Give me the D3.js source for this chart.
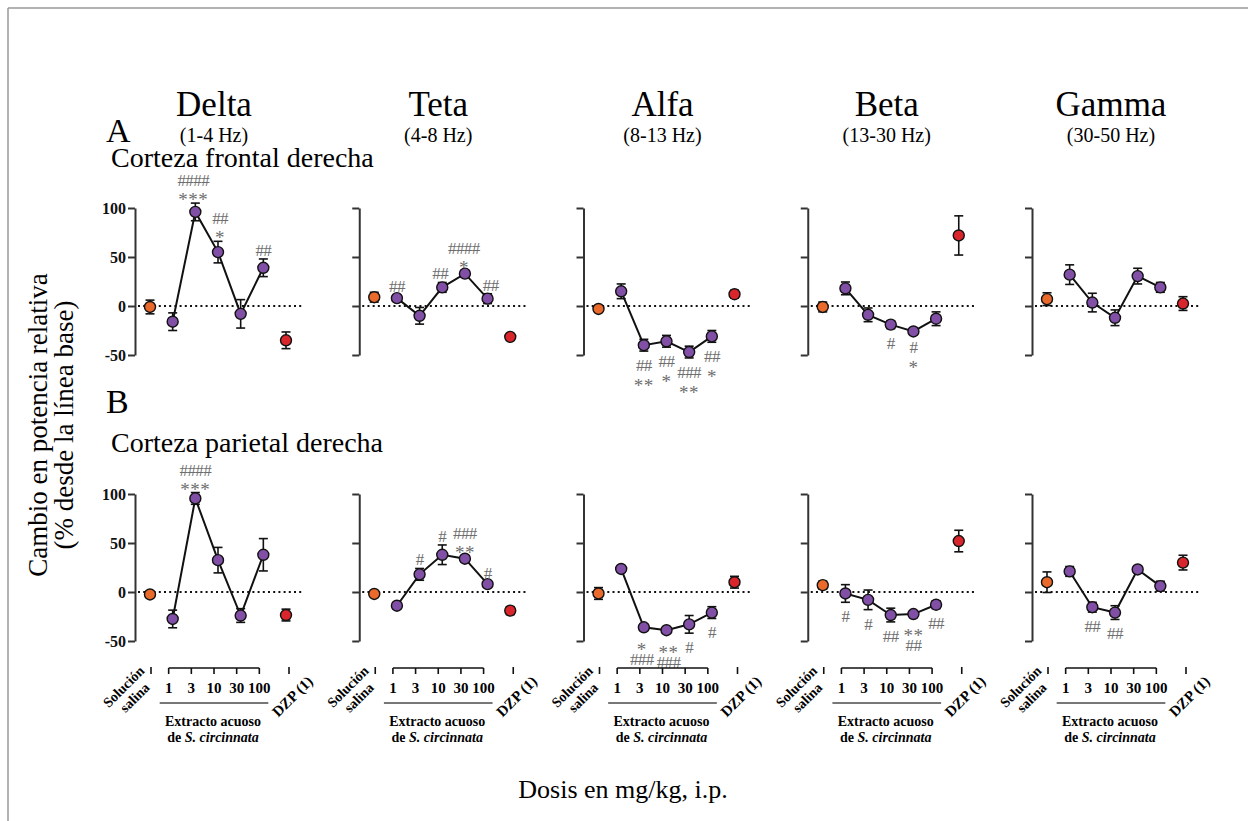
<!DOCTYPE html>
<html>
<head>
<meta charset="utf-8">
<script src="https://cdn.jsdelivr.net/npm/d3@7"></script>
<style>
  body { margin: 0; background: #fff; }
  text { font-family: "Liberation Serif", "Times New Roman", serif; }
</style>
</head>
<body>
<script>
// bands and doses
var bands = ["Delta", "Teta", "Alfa", "Beta", "Gamma"];
var bandHz = ["(1-4 Hz)", "(4-8 Hz)", "(8-13 Hz)", "(13-30 Hz)", "(30-50 Hz)"];
var doses = ["SAL", "1", "3", "10", "30", "100", "DZP"];
var extractDoses = ["1", "3", "10", "30", "100"];
var yTicks = [-50, 0, 50, 100];

// right frontal cortex: mean and sem per band, in dose order
var frontalMean = [
	[-1, -16, 96, 55, -8, 39, -35],
	[9, 8, -10, 19, 33, 7.5, -31.5],
	[-3, 15, -40, -36, -47, -31, 12],
	[-1, 18, -9, -19, -26, -13, 72],
	[7, 32, 3.5, -12, 30.5, 19, 2.5]
];
var frontalSem = [
	[7, 9, 9, 11, 14.5, 9, 8.5],
	[5, 3, 8.5, 5, 3, 5, 3],
	[3, 7.5, 6, 6, 6, 6, 4],
	[5, 6.5, 7, 4, 2, 7, 20],
	[6.5, 10, 9.5, 8, 8, 5, 7]
];
var frontalSig = [
	["", "", "####|***", "##|*", "", "##", ""],
	["", "##", "", "##", "####|*", "##", ""],
	["", "", "##|**", "##|*", "###|**", "##|*", ""],
	["", "", "", "#", "#|*", "", ""],
	["", "", "", "", "", "", ""]
];
var frontalSide = ["up", "up", "down", "down", "down"];

// right parietal cortex
var parietalMean = [
	[-2.5, -27.5, 95.5, 32.5, -24, 38, -23.5],
	[-2, -14, 18, 38, 34, 8, -19],
	[-1.5, 23.5, -36, -39, -33, -21, 10],
	[7, -1.5, -8, -23.5, -22.5, -13, 52],
	[10, 21, -15.5, -21, 23, 6, 30]
];
var parietalSem = [
	[2, 9, 6, 13, 7, 16.5, 6],
	[2, 3, 6, 10, 3, 2, 4],
	[6, 3, 3, 3, 9, 6, 6],
	[4, 9, 10, 7, 2, 4, 11],
	[10.5, 5, 5, 7, 3, 5, 7.5]
];
var parietalSig = [
	["", "", "####|***", "", "", "", ""],
	["", "", "#", "#", "###|**", "#", ""],
	["", "", "*|###", "**|###", "#", "#", ""],
	["", "#", "#", "##", "**|##", "##", ""],
	["", "", "##", "##", "", "", ""]
];
var parietalSide = ["up", "up", "down", "down", "down"];

var W = 1248, H = 821;
var dotColor = { SAL: "#ea6a2c", DZP: "#d8262c" };
var extractColor = "#8150a6";
var sigColor = "#6e6e6e";

var svg = d3.select("body").append("svg")
	.attr("width", W)
	.attr("height", H);

// frame
svg.append("line").attr("x1", 8).attr("y1", 8).attr("x2", W).attr("y2", 8)
	.style("stroke", "#999").style("stroke-width", 1.5);
svg.append("line").attr("x1", 8).attr("y1", 8).attr("x2", 8).attr("y2", H)
	.style("stroke", "#999").style("stroke-width", 1.5);

var colX = d3.scalePoint().domain(bands).range([135, 1032]);
var xs = d3.scalePoint().domain(doses).range([15, 151]);

var rows = [
	{ mean: frontalMean, sem: frontalSem, sig: frontalSig, side: frontalSide,
	  y: d3.scaleLinear().domain([-50, 100]).range([355, 208]),
	  letter: "A", letterY: 142, name: "Corteza frontal derecha", nameY: 167, xAxis: false },
	{ mean: parietalMean, sem: parietalSem, sig: parietalSig, side: parietalSide,
	  y: d3.scaleLinear().domain([-50, 100]).range([641, 494]),
	  letter: "B", letterY: 413, name: "Corteza parietal derecha", nameY: 452, xAxis: true }
];

// column titles
bands.forEach(function(b, i) {
	svg.append("text")
		.attr("x", colX(b) + 79)
		.attr("y", 116)
		.attr("text-anchor", "middle")
		.style("font-size", "35px")
		.text(b);
	svg.append("text")
		.attr("x", colX(b) + 79)
		.attr("y", 142)
		.attr("text-anchor", "middle")
		.style("font-size", "20px")
		.text(bandHz[i]);
});

rows.forEach(function(row) {
	var y = row.y;
	svg.append("text")
		.attr("x", 106)
		.attr("y", row.letterY)
		.style("font-size", "34px")
		.text(row.letter);
	svg.append("text")
		.attr("x", 111)
		.attr("y", row.nameY)
		.style("font-size", "28px")
		.text(row.name);

	bands.forEach(function(b, bi) {
		var g = svg.append("g")
			.attr("transform", "translate(" + colX(b) + ",0)");

		var yAxis = d3.axisLeft(y)
			.tickValues(yTicks)
			.tickSize(7)
			.tickSizeOuter(0)
			.tickPadding(2)
			.tickFormat(function(d) { return bi === 0 ? String(d) : ""; });
		var ax = g.append("g").call(yAxis);
		ax.select(".domain").style("stroke", "#333").style("stroke-width", 2);
		ax.selectAll(".tick line").style("stroke", "#333").style("stroke-width", 2);
		ax.selectAll(".tick text")
			.style("font-family", "Liberation Serif, serif")
			.style("font-weight", "bold")
			.style("font-size", "16px")
			.style("fill", "#111");

		// zero reference
		g.append("line")
			.attr("x1", 3)
			.attr("x2", xs("DZP") + 18)
			.attr("y1", y(0))
			.attr("y2", y(0))
			.style("stroke", "#111")
			.style("stroke-width", 2)
			.style("stroke-dasharray", "2,3.2");

		var pts = doses.map(function(d, i) {
			return { dose: d, mean: row.mean[bi][i], sem: row.sem[bi][i], sig: row.sig[bi][i] };
		});

		// error bars
		var eb = g.selectAll(".eb").data(pts).enter().append("g");
		eb.append("line")
			.attr("x1", function(d) { return xs(d.dose); })
			.attr("x2", function(d) { return xs(d.dose); })
			.attr("y1", function(d) { return y(d.mean + d.sem); })
			.attr("y2", function(d) { return y(d.mean - d.sem); })
			.style("stroke", "#111").style("stroke-width", 1.6);
		[1, -1].forEach(function(s) {
			eb.append("line")
				.attr("x1", function(d) { return xs(d.dose) - 4.5; })
				.attr("x2", function(d) { return xs(d.dose) + 4.5; })
				.attr("y1", function(d) { return y(d.mean + s * d.sem); })
				.attr("y2", function(d) { return y(d.mean + s * d.sem); })
				.style("stroke", "#111").style("stroke-width", 1.6);
		});

		// extract curve
		var ext = pts.filter(function(d) { return extractDoses.indexOf(d.dose) >= 0; });
		g.append("path")
			.datum(ext)
			.attr("d", d3.line()
				.x(function(d) { return xs(d.dose); })
				.y(function(d) { return y(d.mean); }))
			.style("fill", "none")
			.style("stroke", "#111")
			.style("stroke-width", 2);

		g.selectAll(".pt").data(pts).enter().append("circle")
			.attr("cx", function(d) { return xs(d.dose); })
			.attr("cy", function(d) { return y(d.mean); })
			.attr("r", 5.5)
			.style("fill", function(d) { return dotColor[d.dose] || extractColor; })
			.style("stroke", "#111")
			.style("stroke-width", 1.4);

		// significance marks, one text per mark, lines as tspans
		var side = row.side[bi];
		var marks = [];
		pts.forEach(function(d) {
			if (!d.sig) return;
			var lines = d.sig.split("|");
			var n = lines.length;
			var t = g.append("text")
				.attr("text-anchor", "middle")
				.style("fill", sigColor);
			lines.forEach(function(s, li) {
				var cy;
				if (side === "up") cy = y(d.mean + d.sem) - 9 - (n - 1 - li) * 14;
				else cy = y(d.mean - d.sem) + 14 + li * 15;
				var star = s.charAt(0) === "*";
				t.append("tspan")
					.attr("x", xs(d.dose))
					.attr("y", cy + (star ? 12 : 6))
					.style("font-size", star ? "19px" : "17px")
					.style("letter-spacing", star ? "0.5px" : "-0.6px")
					.text(s);
			});
			marks.push({ t: t, x: xs(d.dose) });
		});
		// nudge neighbouring marks apart when they collide
		for (var i = 0; i < marks.length - 1; i++) {
			var a = marks[i].t.node().getBBox();
			var c = marks[i + 1].t.node().getBBox();
			var vov = Math.min(a.y + a.height, c.y + c.height) - Math.max(a.y, c.y);
			var hov = a.x + a.width - c.x + 2;
			if (vov > 0 && hov > 0) {
				marks[i].t.selectAll("tspan").attr("x", marks[i].x - hov / 2);
				marks[i + 1].t.selectAll("tspan").attr("x", marks[i + 1].x + hov / 2);
				marks[i].x -= hov / 2;
				marks[i + 1].x += hov / 2;
			}
		}

		if (row.xAxis) {
			var base = y(-50) + 27;
			var shift = -4;
			// saline and DZP ticks
			["SAL", "DZP"].forEach(function(k) {
				g.append("line")
					.attr("x1", xs(k) + (k === "SAL" ? 1 : 3))
					.attr("x2", xs(k) + (k === "SAL" ? 1 : 3))
					.attr("y1", base - 1)
					.attr("y2", base + 6)
					.style("stroke", "#111").style("stroke-width", 1.6);
			});
			g.append("line")
				.attr("x1", xs("1") + shift)
				.attr("x2", xs("100") + shift)
				.attr("y1", base)
				.attr("y2", base)
				.style("stroke", "#111").style("stroke-width", 1.6);
			extractDoses.forEach(function(k) {
				g.append("line")
					.attr("x1", xs(k) + shift)
					.attr("x2", xs(k) + shift)
					.attr("y1", base)
					.attr("y2", base + 6)
					.style("stroke", "#111").style("stroke-width", 1.6);
				g.append("text")
					.attr("x", xs(k) + shift)
					.attr("y", base + 25)
					.attr("text-anchor", "middle")
					.style("font-size", "15px")
					.style("font-weight", "bold")
					.text(k);
			});
			g.append("line")
				.attr("x1", xs("1") - 13)
				.attr("x2", xs("100") + 5)
				.attr("y1", base + 35)
				.attr("y2", base + 35)
				.style("stroke", "#777").style("stroke-width", 2);
			var cx = (xs("1") + xs("100")) / 2 - 5;
			var t1 = g.append("text")
				.attr("text-anchor", "middle")
				.style("font-size", "14px")
				.style("font-weight", "bold");
			t1.append("tspan").attr("x", cx).attr("y", base + 58).text("Extracto acuoso");
			var t2 = t1.append("tspan").attr("x", cx).attr("y", base + 74);
			t2.append("tspan").text("de ");
			t2.append("tspan").style("font-style", "italic").text("S. circinnata");

			// rotated group labels
			var sx = xs("SAL");
			var sal = g.append("text")
				.attr("transform", "translate(" + (sx - 23) + "," + (base + 22) + ") rotate(-45)")
				.attr("text-anchor", "middle")
				.style("font-size", "14px")
				.style("font-weight", "bold");
			sal.append("tspan").attr("x", 0).attr("y", 0).text("Solución");
			sal.append("tspan").attr("x", 0).attr("y", 15.5).text("salina");
			g.append("text")
				.attr("transform", "translate(" + (xs("DZP") + 10) + "," + (base + 32) + ") rotate(-45)")
				.attr("text-anchor", "middle")
				.style("font-size", "15px")
				.style("font-weight", "bold")
				.text("DZP (1)");
		}
	});
});

// shared axis titles
var yt = svg.append("text")
	.attr("transform", "translate(47,425) rotate(-90)")
	.attr("text-anchor", "middle")
	.style("font-size", "27px");
yt.append("tspan").attr("x", 0).attr("y", 0).text("Cambio en potencia relativa");
yt.append("tspan").attr("x", 0).attr("y", 26).text("(% desde la línea base)");
svg.append("text")
	.attr("x", 623)
	.attr("y", 798)
	.attr("text-anchor", "middle")
	.style("font-size", "26px")
	.text("Dosis en mg/kg, i.p.");
</script>
</body>
</html>
